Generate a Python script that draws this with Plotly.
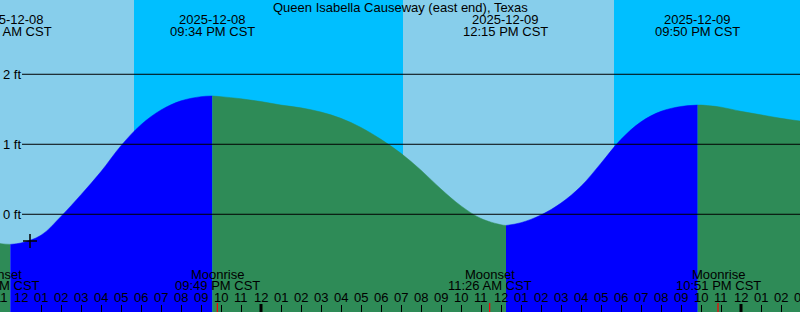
import pandas as pd
import plotly.graph_objects as go

STATION = "Queen Isabella Causeway (east end), Texas"

# Hourly predicted tide heights (ft)
hour_times = pd.date_range("2025-12-08 10:00", "2025-12-10 03:00", freq="h")
hour_heights = [
    -0.36, -0.42, -0.41, -0.30, -0.03, 0.28, 0.61, 0.98, 1.28, 1.49, 1.62, 1.68, 1.68, 1.65,
    1.61, 1.56, 1.52, 1.46, 1.37, 1.24, 1.07, 0.87, 0.63, 0.36, 0.12, -0.06,
    -0.15, -0.12, -0.01, 0.16, 0.40, 0.73, 1.07, 1.32, 1.47, 1.54, 1.56, 1.53,
    1.47, 1.42, 1.37, 1.33,
]

# High / low tide events
extreme_times = ["2025-12-08 11:28", "2025-12-08 21:34", "2025-12-09 12:15", "2025-12-09 21:50"]
extreme_heights = [-0.43, 1.69, -0.16, 1.56]

# Night periods (sunset -> sunrise)
sunset_times = ["2025-12-08 17:39", "2025-12-09 17:39"]
sunrise_times = ["2025-12-09 07:06", "2025-12-10 07:06"]

# Moon events
moon_times = ["2025-12-08 10:48", "2025-12-08 21:49", "2025-12-09 11:26", "2025-12-09 22:51"]
moon_names = ["Moonset", "Moonrise", "Moonset", "Moonrise"]

# Current time marker
now_time = "2025-12-08 12:27"
now_height = -0.38

y_ticks = [0, 1, 2]
view_start, view_end = "2025-12-08 10:57", "2025-12-10 02:57"
y_range = [-1.396, 3.061]

FONT = "Liberation Sans, Arial, sans-serif"
FS = 13
DAY, NIGHT = "#87CEEB", "#00BFFF"
RISE, FALL = "#0000FF", "#2E8B57"

t0, t1 = pd.Timestamp(view_start), pd.Timestamp(view_end)


def frac(t):
    """Position of a time as a fraction of the visible time window (may fall outside 0..1)."""
    return (pd.Timestamp(t) - t0) / (t1 - t0)


df = pd.DataFrame({
    "t": list(hour_times) + list(pd.to_datetime(extreme_times)),
    "h": hour_heights + extreme_heights,
}).sort_values("t").reset_index(drop=True)

ext = sorted(pd.to_datetime(extreme_times))
bounds = [df.t.min()] + ext + [df.t.max()]

fig = go.Figure()
floor = y_range[0] - 0.2
for a, b in zip(bounds[:-1], bounds[1:]):
    seg = df[(df.t >= a) & (df.t <= b)]
    color = RISE if seg.h.iloc[-1] > seg.h.iloc[0] else FALL
    fig.add_trace(go.Scatter(x=seg.t, y=[floor] * len(seg), mode="lines",
                             line=dict(width=0), hoverinfo="skip", showlegend=False))
    fig.add_trace(go.Scatter(x=seg.t, y=seg.h, mode="lines",
                             line=dict(width=0.5, color=color, shape="spline"),
                             fill="tonexty", fillcolor=color, showlegend=False))

fig.add_trace(go.Scatter(x=[now_time], y=[now_height], mode="markers",
                         marker=dict(symbol="cross-thin", size=10,
                                     line=dict(width=1.5, color="black")),
                         showlegend=False))

shapes = []
for s, r in zip(sunset_times, sunrise_times):
    shapes.append(dict(type="rect", xref="x", yref="paper", x0=s, x1=r, y0=0, y1=1,
                       fillcolor=NIGHT, line=dict(width=0), layer="below"))
for v in y_ticks:
    shapes.append(dict(type="line", xref="paper", yref="y", x0=22 / 800, x1=1, y0=v, y1=v,
                       line=dict(color="black", width=1), layer="above"))
midnights = pd.date_range(t0.ceil("D"), t1, freq="D")
for m in midnights:
    shapes.append(dict(type="line", xref="x", yref="paper", x0=m, x1=m, y0=0, y1=8 / 312,
                       line=dict(color="black", width=3), layer="above"))
for mt in moon_times:
    shapes.append(dict(type="line", xref="x", yref="paper", x0=mt, x1=mt, y0=0, y1=9 / 312,
                       line=dict(color="red", width=1.2), layer="above"))

tf = dict(size=FS, color="black", family=FONT)


def label(x, py, text):
    return dict(xref="paper", yref="paper", x=x, y=1 - py / 312, xanchor="center",
                yanchor="middle", text=text, showarrow=False, font=tf)


ann = [label(0.5, 7.5, STATION)]
for t in ext:
    ann.append(label(frac(t), 19.5, t.strftime("%Y-%m-%d")))
    ann.append(label(frac(t), 31.5, t.strftime("%I:%M %p CST")))
for mt, name in zip(pd.to_datetime(moon_times), moon_names):
    ann.append(label(frac(mt), 274, name))
    ann.append(label(frac(mt), 285.5, mt.strftime("%I:%M %p CST")))

# hour labels along the bottom (including partially visible ones at the edges)
hour_labels = pd.date_range(t0.floor("h"), t1.ceil("h"), freq="h")
for h in hour_labels:
    ann.append(label(frac(h), 297.5, h.strftime("%I")))

fig.update_layout(
    width=800, height=312, autosize=False,
    margin=dict(l=0, r=0, t=0, b=0, pad=0),
    plot_bgcolor=DAY, paper_bgcolor=DAY,
    font=dict(family=FONT, size=FS, color="black"),
    shapes=shapes, annotations=ann, showlegend=False,
    xaxis=dict(type="date", range=[view_start, view_end], tick0="2025-12-08 00:00",
               dtick=3600000, ticks="inside", ticklen=7, tickwidth=1,
               tickcolor="black", showticklabels=False, showgrid=False,
               zeroline=False, showline=False),
    yaxis=dict(range=y_range, tickvals=y_ticks, ticktext=[f"{v} ft" for v in y_ticks],
               ticks="", ticklabelposition="inside", showgrid=False, zeroline=False,
               showline=False, tickfont=tf),
)

fig.write_html("out.html")
